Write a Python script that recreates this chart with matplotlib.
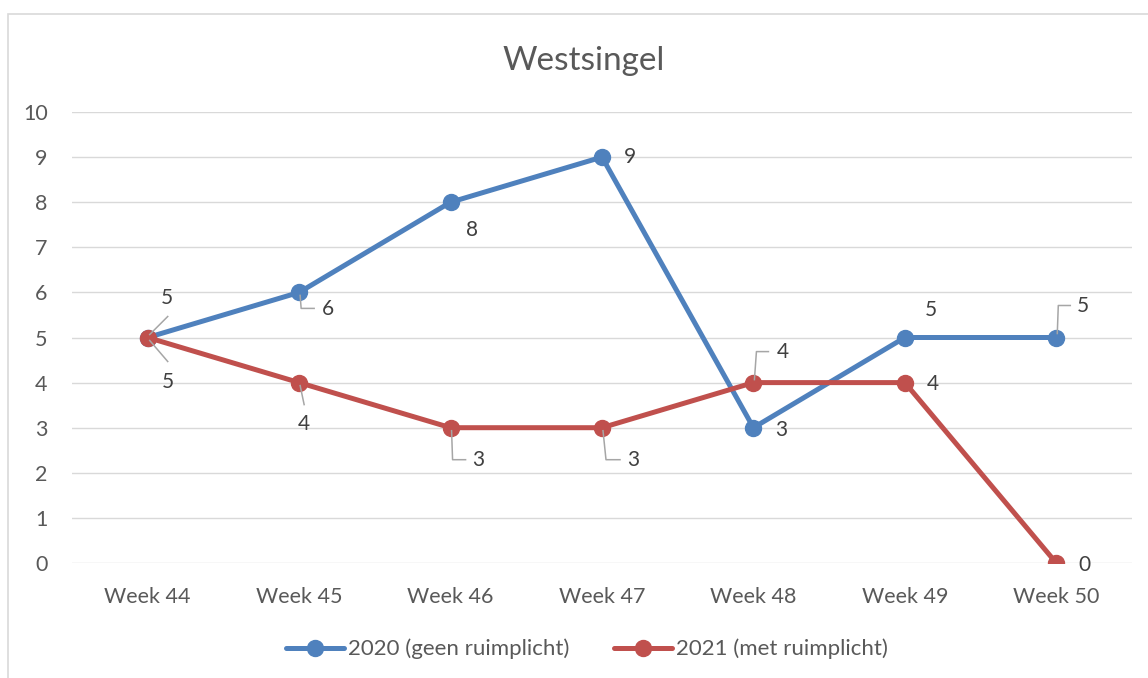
import matplotlib
matplotlib.use("Agg")
import matplotlib.pyplot as plt
from matplotlib.lines import Line2D
from matplotlib.patches import Rectangle
from matplotlib.transforms import IdentityTransform

# data
weeks = ["Week 44", "Week 45", "Week 46", "Week 47", "Week 48", "Week 49", "Week 50"]
vals_2020 = [5, 6, 8, 9, 3, 5, 5]
vals_2021 = [5, 4, 3, 3, 4, 4, 0]
label_2020 = "2020 (geen ruimplicht)"
label_2021 = "2021 (met ruimplicht)"

blue = "#4F81BD"
red = "#C0504D"
grey_txt = "#595959"
lbl_txt = "#404040"

plt.rcParams['font.family'] = ['Lato', 'DejaVu Sans']

fig = plt.figure(figsize=(11.48, 6.78), dpi=100)
W, H = 1148, 678
ax = fig.add_axes([72 / W, 1 - 563 / H, 1060 / W, 451 / H])

x = list(range(len(weeks)))
ax.plot(x, vals_2020, color=blue, lw=3.6, marker='o', ms=11.5, label=label_2020,
        solid_capstyle='round', zorder=3)
ax.plot(x, vals_2021, color=red, lw=3.6, marker='o', ms=11.5, label=label_2021,
        solid_capstyle='round', zorder=4)

ax.set_xlim(-0.5, len(weeks) - 0.5)
ax.set_ylim(0, 10)
ax.set_yticks(range(0, 11))
ax.set_xticks(x)
ax.set_xticklabels(weeks)
ax.grid(axis='y', color='#D9D9D9', lw=1.0)
ax.set_axisbelow(True)
for s in ax.spines.values():
    s.set_visible(False)
ax.tick_params(length=0, labelsize=15.5, colors=grey_txt)
ax.tick_params(axis='x', pad=17)
ax.tick_params(axis='y', pad=17.5)
for t in ax.get_yticklabels():
    t.set_horizontalalignment('right')

# data labels: text offset (px, image y down) and leader path offsets (px)
labels_2020 = [
    ((19, -40), [(2, -3), (20, -21)]),
    ((29, 17), [(1, 3), (2, 16), (15, 16)]),
    ((21, 28), None),
    ((28, 0), None),
    ((28, 2), None),
    ((26, -28), None),
    ((27, -31), [(1, -4), (2, -32), (14, -32)]),
]
labels_2021 = [
    ((20, 44), [(2, 3), (20, 24)]),
    ((5, 41), [(1, 3), (5, 22)]),
    ((28, 32), [(1, 3), (2, 32), (15, 32)]),
    ((31, 32), [(1, 3), (4, 32), (18, 32)]),
    ((29, -31), [(1, -3), (3, -31), (15, -31)]),
    ((28, 1), None),
    ((28, 2), None),
]


def add_labels(vals, specs):
    for xi, (v, (toff, path)) in enumerate(zip(vals, specs)):
        ax.annotate(str(v), (xi, v), xytext=(toff[0] * 0.72, -toff[1] * 0.72),
                    textcoords='offset points', ha='center', va='center',
                    fontsize=15, color=lbl_txt, zorder=6)
        if path:
            px, py = ax.transData.transform((xi, v))
            xs = [px + p[0] for p in path]
            ys = [py - p[1] for p in path]
            fig.add_artist(Line2D(xs, ys, transform=IdentityTransform(),
                                  color='#A6A6A6', lw=1.1, zorder=5))


add_labels(vals_2020, labels_2020)
add_labels(vals_2021, labels_2021)

fig.text(584 / W, 1 - 61 / H, "Westsingel", ha='center', va='center',
         fontsize=24, color=grey_txt)

fig.legend(loc='center', bbox_to_anchor=(587 / W, 1 - 649 / H), ncol=2,
           frameon=False, fontsize=16, handlelength=2.6, handletextpad=0.2,
           columnspacing=2.0, numpoints=1, labelcolor=grey_txt)

# chart border
fig.add_artist(Rectangle((8 / W, -0.1), 1.2, 1 - 14 / H + 0.1,
                         transform=fig.transFigure, fill=False,
                         edgecolor='#D9D9D9', lw=1.2))

fig.savefig("out.png", dpi=100)
plt.close(fig)
